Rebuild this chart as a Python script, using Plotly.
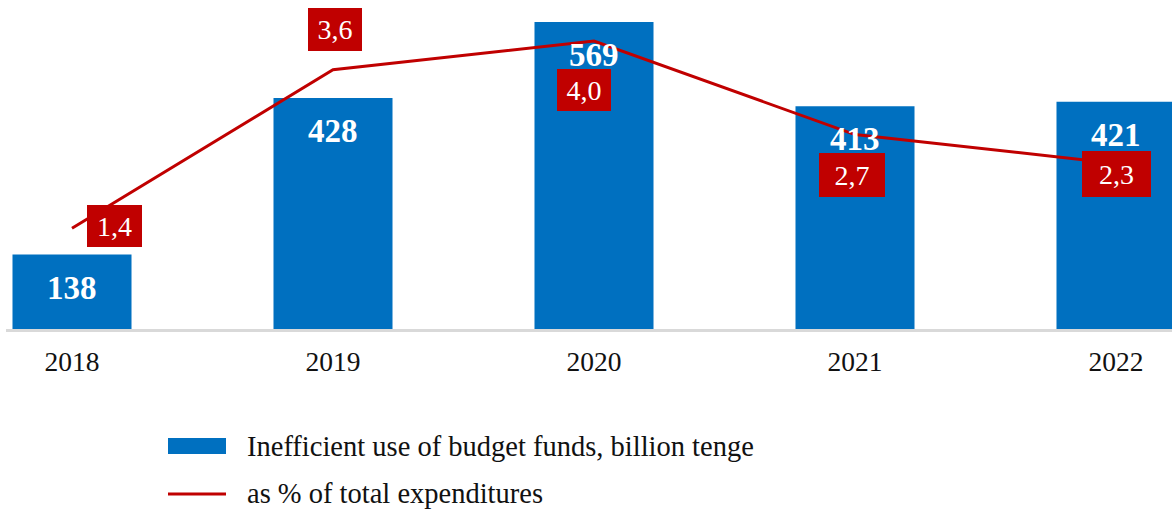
import plotly.graph_objects as go

# Data
years = [2018, 2019, 2020, 2021, 2022]
funds_bn_tenge = [138, 428, 569, 413, 421]
share_pct = [1.4, 3.6, 4.0, 2.7, 2.3]

bar_name = "Inefficient use of budget funds, billion tenge"
line_name = "as % of total expenditures"

BLUE = "#0070C0"
RED = "#C00000"
SERIF = "Liberation Serif"

W, H = 1172, 510
ML, MR, MT, MB = 6, 0, 0, 181
PLOT_W = W - ML - MR
PLOT_H = H - MT - MB

# Placement of the percentage boxes: (xshift, yshift, box width, box height)
pct_box_layout = [
    (42, 2, 55, 42),
    (2, 40, 54, 43),
    (-10, -49, 54, 42),
    (-3, -40, 66, 44),
    (0, -11, 69, 46),
]


def paper_x(px):
    return (px - ML) / PLOT_W


def paper_y(py):
    return (MT + PLOT_H - py) / PLOT_H


fig = go.Figure()

fig.add_trace(go.Bar(
    x=years, y=funds_bn_tenge, name=bar_name,
    marker=dict(color=BLUE, line=dict(width=0)),
    width=0.456, showlegend=False, hoverinfo="x+y",
))

fig.add_trace(go.Scatter(
    x=years, y=share_pct, name=line_name, yaxis="y2",
    mode="lines", line=dict(color=RED, width=3),
    showlegend=False, hoverinfo="x+y",
))

annotations = []

# Value labels inside the bars
for yr, v in zip(years, funds_bn_tenge):
    annotations.append(dict(
        x=yr, y=v, xref="x", yref="y", yshift=-33,
        text=f"<b>{v}</b>", showarrow=False,
        font=dict(family=SERIF, size=33, color="white"),
        xanchor="center", yanchor="middle",
    ))

# Percentage labels in red boxes
for yr, v, (dx, dy, bw, bh) in zip(years, share_pct, pct_box_layout):
    annotations.append(dict(
        x=yr, y=v, xref="x", yref="y2", xshift=dx, yshift=dy,
        text=f"{v:.1f}".replace(".", ","), showarrow=False,
        font=dict(family=SERIF, size=28, color="white"),
        bgcolor=RED, borderpad=0, borderwidth=0,
        width=bw, height=bh, align="center", valign="middle",
        xanchor="center", yanchor="middle",
    ))

# Legend drawn below the axis
shapes = [
    dict(type="rect", xref="paper", yref="paper",
         x0=paper_x(168), x1=paper_x(226), y0=paper_y(454), y1=paper_y(438),
         fillcolor=BLUE, line=dict(width=0)),
    dict(type="line", xref="paper", yref="paper",
         x0=paper_x(168), x1=paper_x(226), y0=paper_y(494), y1=paper_y(494),
         line=dict(color=RED, width=3)),
]
for label, py in [(bar_name, 446), (line_name, 493)]:
    annotations.append(dict(
        x=paper_x(245), y=paper_y(py), xref="paper", yref="paper",
        text=label, showarrow=False,
        font=dict(family=SERIF, size=28.5, color="#111111"),
        xanchor="left", yanchor="middle",
    ))

x_left = 2018 - (72 - ML) / 261
x_right = 2022 + (W - MR - 1116) / 261

fig.update_layout(
    width=W, height=H,
    margin=dict(l=ML, r=MR, t=MT, b=MB, pad=0),
    paper_bgcolor="white", plot_bgcolor="white",
    xaxis=dict(
        range=[x_left, x_right], tickmode="array", tickvals=years,
        ticktext=[str(y) for y in years], showgrid=False, zeroline=False,
        showline=True, linecolor="#D9D9D9", linewidth=3,
        ticks="", ticklabelstandoff=6,
        tickfont=dict(family=SERIF, size=27.5, color="#111111"),
    ),
    yaxis=dict(range=[0, PLOT_H / 0.5395], visible=False, showgrid=False),
    yaxis2=dict(range=[0, PLOT_H / 72], overlaying="y", visible=False,
                showgrid=False),
    annotations=annotations,
    shapes=shapes,
    showlegend=False,
)

fig.write_html("out.html")
